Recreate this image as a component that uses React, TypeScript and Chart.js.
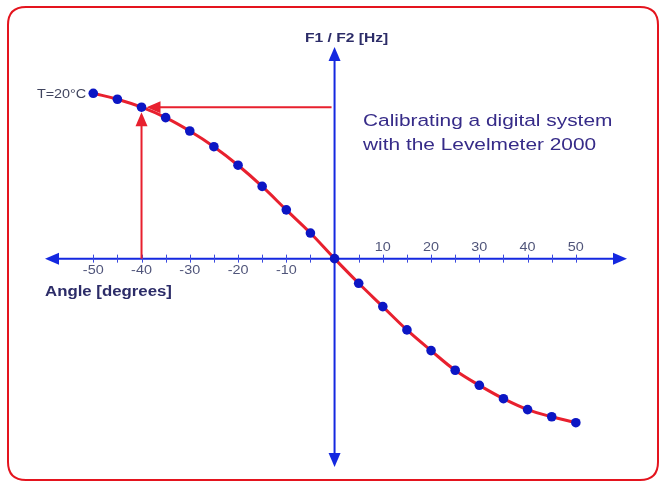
import React, { useEffect, useRef } from "react";
import { Chart, registerables } from "chart.js";

Chart.register(...registerables);

// ---- data ----
const angles = [-50, -45, -40, -35, -30, -25, -20, -15, -10, -5, 0, 5, 10, 15, 20, 25, 30, 35, 40, 45, 50];
const freqValues = [100.0, 96.4, 91.6, 85.3, 77.2, 67.7, 56.5, 43.7, 29.5, 15.5, 0, -14.9, -29.0, -43.1, -55.6, -67.5, -76.6, -84.7, -91.3, -95.6, -99.2];
const tickMarks = [-50, -45, -40, -35, -30, -25, -20, -15, -10, -5, 5, 10, 15, 20, 25, 30, 35, 40, 45, 50];
const negTickLabels = ["-50", "-40", "-30", "-20", "-10"];
const negTickValues = [-50, -40, -30, -20, -10];
const posTickLabels = ["10", "20", "30", "40", "50"];
const posTickValues = [10, 20, 30, 40, 50];
const calibAngle = -40;
const xAxisTitle = "Angle [degrees]";
const yAxisTitle = "F1 / F2 [Hz]";
const curveLabel = "T=20°C";
const noteLines = ["Calibrating a digital system", "with the Levelmeter 2000"];

const AXIS = "#1428e0";
const RED = "#e8202e";
const FONT = "'Liberation Sans', Arial, sans-serif";
const STRETCH = 1.2;

function arrowHead(ctx: CanvasRenderingContext2D, tx: number, ty: number, dir: "l" | "r" | "u" | "d", len: number, half: number, color: string) {
  ctx.save();
  ctx.fillStyle = color;
  ctx.beginPath();
  ctx.moveTo(tx, ty);
  if (dir === "l") { ctx.lineTo(tx + len, ty - half); ctx.lineTo(tx + len, ty + half); }
  if (dir === "r") { ctx.lineTo(tx - len, ty - half); ctx.lineTo(tx - len, ty + half); }
  if (dir === "u") { ctx.lineTo(tx - half, ty + len); ctx.lineTo(tx + half, ty + len); }
  if (dir === "d") { ctx.lineTo(tx - half, ty - len); ctx.lineTo(tx + half, ty - len); }
  ctx.closePath();
  ctx.fill();
  ctx.restore();
}

function roundRect(ctx: CanvasRenderingContext2D, x: number, y: number, w: number, h: number, r: number) {
  ctx.beginPath();
  ctx.moveTo(x + r, y);
  ctx.lineTo(x + w - r, y);
  ctx.quadraticCurveTo(x + w, y, x + w, y + r);
  ctx.lineTo(x + w, y + h - r);
  ctx.quadraticCurveTo(x + w, y + h, x + w - r, y + h);
  ctx.lineTo(x + r, y + h);
  ctx.quadraticCurveTo(x, y + h, x, y + h - r);
  ctx.lineTo(x, y + r);
  ctx.quadraticCurveTo(x, y, x + r, y);
  ctx.closePath();
}

function text(ctx: CanvasRenderingContext2D, s: string, x: number, y: number, align: CanvasTextAlign) {
  ctx.save();
  ctx.translate(x, y);
  ctx.scale(STRETCH, 1);
  ctx.textAlign = align;
  ctx.fillText(s, 0, 0);
  ctx.restore();
}

const decorPlugin = {
  id: "decor",
  beforeDraw(chart: any) {
    const ctx = chart.ctx as CanvasRenderingContext2D;
    ctx.save();
    ctx.fillStyle = "#ffffff";
    ctx.fillRect(0, 0, chart.width, chart.height);
    ctx.strokeStyle = "#e4141e";
    ctx.lineWidth = 2;
    roundRect(ctx, 8, 7, 650, 473, 18);
    ctx.stroke();
    ctx.restore();
  },
  beforeDatasetsDraw(chart: any) {
    const ctx = chart.ctx as CanvasRenderingContext2D;
    const xs = chart.scales.x;
    const ys = chart.scales.y;
    const x0 = xs.getPixelForValue(0);
    const y0 = ys.getPixelForValue(0);
    const xl = xs.getPixelForValue(xs.min);
    const xr = xs.getPixelForValue(xs.max);
    const yt = ys.getPixelForValue(ys.max);
    const yb = ys.getPixelForValue(ys.min);
    ctx.save();
    ctx.strokeStyle = AXIS;
    ctx.lineWidth = 2;
    ctx.beginPath();
    ctx.moveTo(xl + 6, y0);
    ctx.lineTo(xr - 6, y0);
    ctx.moveTo(x0, yt + 6);
    ctx.lineTo(x0, yb - 6);
    ctx.stroke();
    arrowHead(ctx, xl, y0, "l", 14, 6, AXIS);
    arrowHead(ctx, xr, y0, "r", 14, 6, AXIS);
    arrowHead(ctx, x0, yt, "u", 14, 6, AXIS);
    arrowHead(ctx, x0, yb, "d", 14, 6, AXIS);
    // tick marks
    ctx.lineWidth = 1;
    ctx.strokeStyle = "#3a4ae0";
    ctx.beginPath();
    tickMarks.forEach((t) => {
      const px = Math.round(xs.getPixelForValue(t)) + 0.5;
      ctx.moveTo(px, y0 - 4);
      ctx.lineTo(px, y0 + 4);
    });
    ctx.stroke();
    // calibration arrows
    const idx = angles.indexOf(calibAngle);
    const cx = xs.getPixelForValue(calibAngle);
    const cy = ys.getPixelForValue(freqValues[idx]);
    ctx.strokeStyle = RED;
    ctx.lineWidth = 2;
    ctx.beginPath();
    ctx.moveTo(x0 - 3, cy);
    ctx.lineTo(cx + 16, cy);
    ctx.moveTo(cx, y0);
    ctx.lineTo(cx, cy + 16);
    ctx.stroke();
    arrowHead(ctx, cx + 5, cy, "l", 14, 6, RED);
    arrowHead(ctx, cx, cy + 5, "u", 14, 6, RED);
    ctx.restore();
  },
  afterDatasetsDraw(chart: any) {
    const ctx = chart.ctx as CanvasRenderingContext2D;
    const xs = chart.scales.x;
    const ys = chart.scales.y;
    const x0 = xs.getPixelForValue(0);
    const y0 = ys.getPixelForValue(0);
    ctx.save();
    ctx.textBaseline = "alphabetic";
    ctx.fillStyle = "#50557a";
    ctx.font = `12px ${FONT}`;
    negTickValues.forEach((v, i) => text(ctx, negTickLabels[i], xs.getPixelForValue(v), y0 + 15, "center"));
    posTickValues.forEach((v, i) => text(ctx, posTickLabels[i], xs.getPixelForValue(v), y0 - 8, "center"));
    // axis titles
    ctx.fillStyle = "#2c2c68";
    ctx.font = `bold 14px ${FONT}`;
    text(ctx, xAxisTitle, 45, y0 + 37, "left");
    ctx.font = `bold 13px ${FONT}`;
    text(ctx, yAxisTitle, x0 + 12, 42, "center");
    // curve label
    ctx.fillStyle = "#40445e";
    ctx.font = `12px ${FONT}`;
    text(ctx, curveLabel, xs.getPixelForValue(angles[0]) - 7, ys.getPixelForValue(freqValues[0]) + 5, "right");
    // note
    ctx.fillStyle = "#362b88";
    ctx.font = `17.4px ${FONT}`;
    text(ctx, noteLines[0], 363, 126, "left");
    text(ctx, noteLines[1], 363, 150, "left");
    ctx.restore();
  },
};

export default function App() {
  const ref = useRef<HTMLCanvasElement | null>(null);
  useEffect(() => {
    if (!ref.current) return;
    const chart = new Chart(ref.current, {
      type: "scatter",
      data: {
        datasets: [
          {
            data: angles.map((a, i) => ({ x: a, y: freqValues[i] })),
            showLine: true,
            borderColor: RED,
            borderWidth: 3,
            tension: 0.4,
            pointRadius: 4.8,
            pointBackgroundColor: "#0c16c4",
            pointBorderColor: "#0c16c4",
            pointBorderWidth: 0,
          },
        ],
      },
      options: {
        responsive: false,
        maintainAspectRatio: false,
        animation: false,
        layout: { padding: { left: 45, right: 33, top: 47, bottom: 17 } },
        scales: {
          x: { type: "linear", min: -60, max: 60.6, display: false },
          y: { type: "linear", min: -126, max: 128, display: false },
        },
        plugins: { legend: { display: false }, tooltip: { enabled: false } },
      },
      plugins: [decorPlugin],
    });
    return () => chart.destroy();
  }, []);
  return (
    <div style={{ position: "fixed", left: 0, top: 0, width: 660, height: 484 }}>
      <canvas ref={ref} width={660} height={484} style={{ display: "block", width: 660, height: 484 }} />
    </div>
  );
}
